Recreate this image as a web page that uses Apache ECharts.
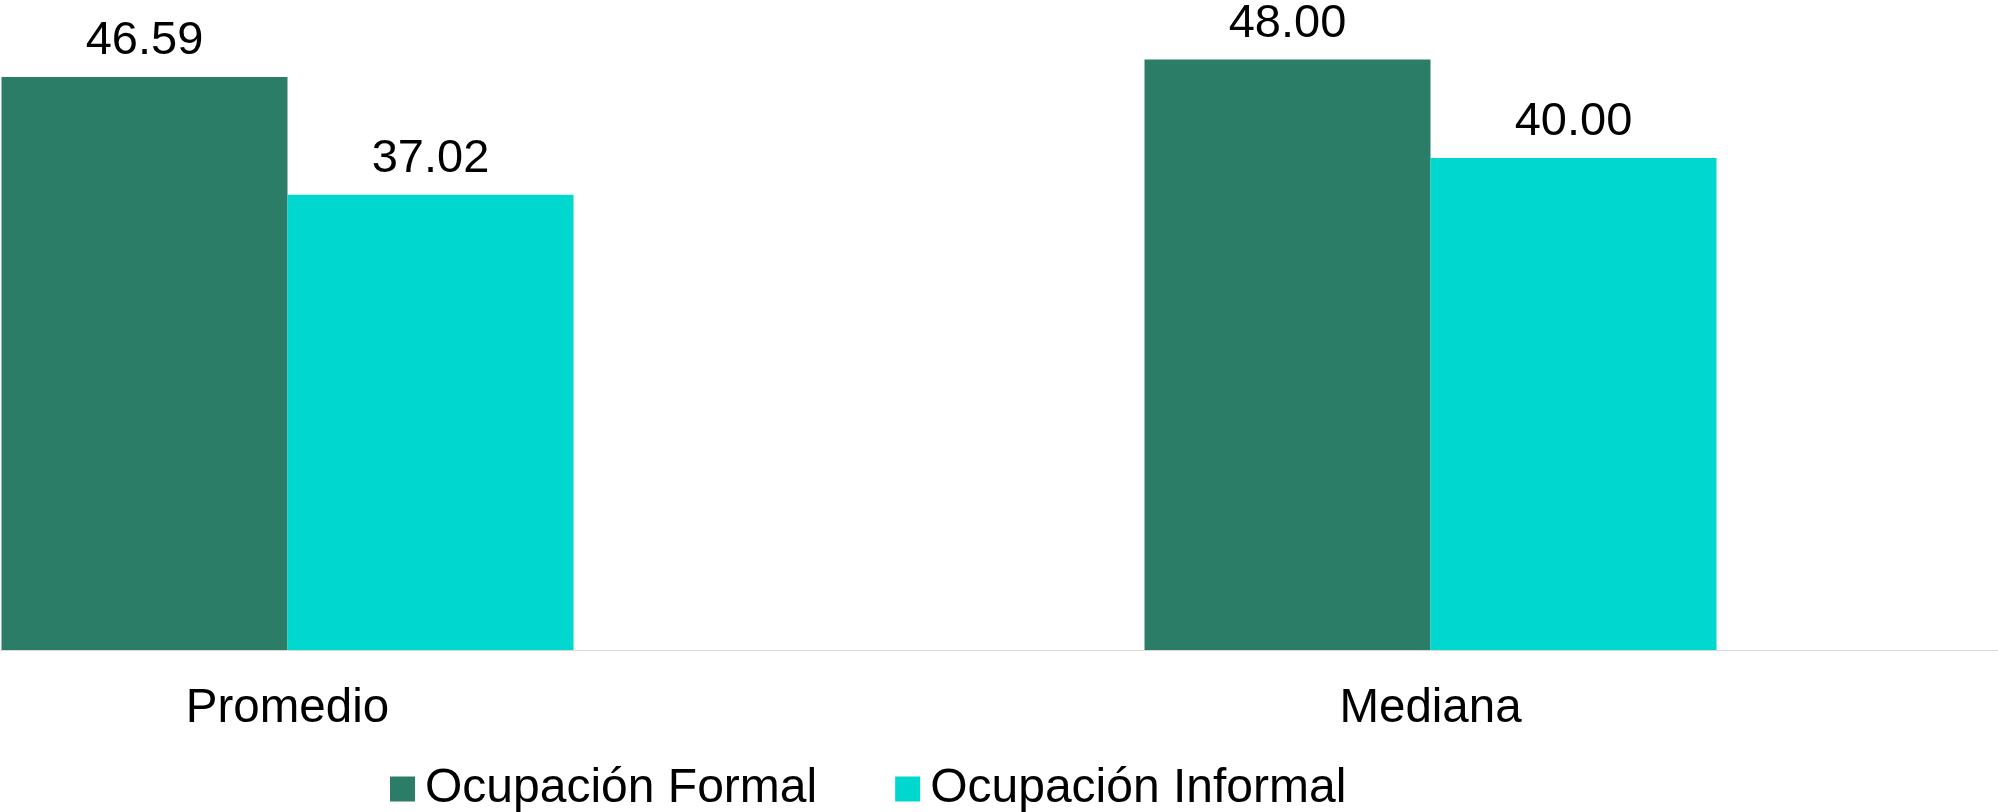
<!DOCTYPE html>
<html>
<head>
<meta charset="utf-8">
<script src="https://cdn.jsdelivr.net/npm/echarts@6/dist/echarts.min.js"></script>
<style>
html,body{margin:0;padding:0;background:#fff;}
#chart{width:1998px;height:812px;}
</style>
</head>
<body>
<div id="chart"></div>
<script>
const categories = ['Promedio', 'Mediana'];
const seriesNames = ['Ocupación Formal', 'Ocupación Informal'];
const formalValues = [46.59, 48.00];
const informalValues = [37.02, 40.00];

const FONT = '"Liberation Sans", Arial, sans-serif';
const chart = echarts.init(document.getElementById('chart'));
const labelCfg = {
  show: true,
  position: 'top',
  distance: 12,
  fontSize: 47,
  fontFamily: FONT,
  color: '#000',
  formatter: p => p.value.toFixed(2)
};
chart.setOption({
  animation: false,
  backgroundColor: '#fff',
  grid: { left: -284, right: -4, top: 35, bottom: 162, containLabel: false, outerBoundsMode: 'none' },
  legend: {
    left: 385,
    top: 760,
    itemWidth: 25,
    itemHeight: 25,
    itemGap: 78,
    icon: 'rect',
    textStyle: { fontSize: 48, fontFamily: FONT, color: '#000', padding: [0, 0, 0, 5] },
    data: seriesNames
  },
  xAxis: {
    type: 'category',
    data: categories,
    axisLine: { show: true, lineStyle: { color: '#d9d9d9', width: 1 } },
    axisTick: { show: false },
    axisLabel: { fontSize: 47.5, fontFamily: FONT, color: '#000', margin: 35 }
  },
  yAxis: {
    type: 'value',
    min: 0,
    max: 50,
    show: false,
    splitLine: { show: false }
  },
  series: [
    {
      name: seriesNames[0],
      type: 'bar',
      data: formalValues,
      barWidth: 286,
      barGap: '0%',
      itemStyle: { color: '#2C7D68' },
      label: labelCfg
    },
    {
      name: seriesNames[1],
      type: 'bar',
      data: informalValues,
      barWidth: 286,
      barGap: '0%',
      itemStyle: { color: '#00D7CF' },
      label: labelCfg
    }
  ]
});
</script>
</body>
</html>
